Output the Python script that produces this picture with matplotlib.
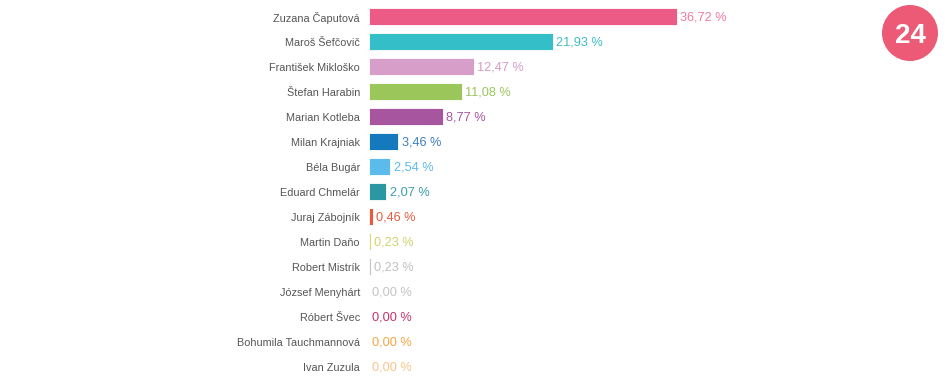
import matplotlib
matplotlib.use("Agg")
import matplotlib.pyplot as plt
import matplotlib.transforms as mtransforms
from matplotlib.patches import Ellipse

candidates = ["Zuzana Čaputová", "Maroš Šefčovič", "František Mikloško", "Štefan Harabin",
              "Marian Kotleba", "Milan Krajniak", "Béla Bugár", "Eduard Chmelár",
              "Juraj Zábojník", "Martin Daňo", "Robert Mistrík", "József Menyhárt",
              "Róbert Švec", "Bohumila Tauchmannová", "Ivan Zuzula"]
values = [36.72, 21.93, 12.47, 11.08, 8.77, 3.46, 2.54, 2.07, 0.46, 0.23, 0.23, 0.00, 0.00, 0.00, 0.00]
colors = ["#ec5a86", "#33bec8", "#d69ec8", "#9bc65a", "#a855a0", "#1479bd", "#5bbbea",
          "#2a97a2", "#e85a3c", "#d6da78", "#c4c4c4", "#c8c8c8", "#c9316a", "#f7a540", "#f9c48a"]
label_colors = ["#f07a9c", "#3fbcc6", "#d49cc6", "#9bc65a", "#a855a0", "#3a7fc0", "#5bbbea",
                "#3a9ea8", "#e85a3c", "#cfd36a", "#c0c0c0", "#c4c4c4", "#c9316a", "#f7a540", "#f9c48a"]

plt.rcParams['font.family'] = ['Liberation Sans', 'DejaVu Sans']

W, H = 950, 385
fig = plt.figure(figsize=(W / 100, H / 100), dpi=100)
fig.patch.set_facecolor("white")

left_px, right_px = 369, 940
ax = fig.add_axes([left_px / W, 6.5 / H, (right_px - left_px) / W, 375 / H])
px_per_unit = 308 / 36.72
ax.set_xlim(0, (right_px - left_px) / px_per_unit)
ax.set_ylim(len(candidates) - 0.5, -0.5)

ypos = list(range(len(candidates)))
ax.barh(ypos, values, height=0.68, color=colors, edgecolor="white", linewidth=0.6)

for y, v, c in zip(ypos, values, label_colors):
    ax.text(v + 3.5 / px_per_unit, y, f"{v:.2f} %".replace(".", ","), va="center_baseline", ha="left",
            fontsize=9.2, color=c)

ax.set_yticks(ypos)
ax.set_yticklabels(candidates, fontsize=7.8, color="#555555", va="center_baseline")
ax.tick_params(axis="y", length=0, pad=6.5)
shift = mtransforms.ScaledTranslation(0, -1.0 / 72, fig.dpi_scale_trans)
for lbl in ax.get_yticklabels():
    lbl.set_transform(lbl.get_transform() + shift)
ax.set_xticks([])
for s in ax.spines.values():
    s.set_visible(False)

# logo
cx, cy, r = 910, 33, 28
fig.patches.append(Ellipse((cx / W, 1 - cy / H), 2 * r / W, 2 * r / H, transform=fig.transFigure,
                           facecolor="#ec5a76", edgecolor="none"))
fig.text(cx / W, 1 - cy / H, "24", ha="center", va="center_baseline", color="white", fontsize=20,
         fontweight="bold")

fig.savefig("out.png", dpi=100, facecolor="white")
